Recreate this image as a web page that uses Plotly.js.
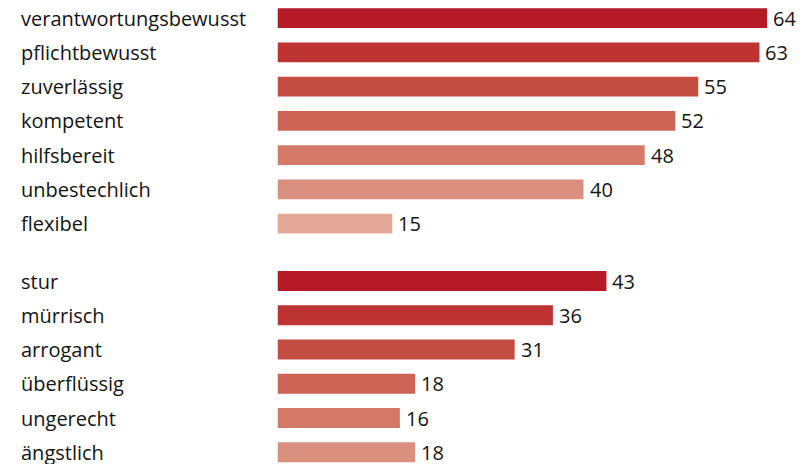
<!DOCTYPE html>
<html>
<head>
<meta charset="utf-8">
<script src="https://cdn.plot.ly/plotly-3.0.1.min.js"></script>
<style>html,body{margin:0;padding:0;background:#fff;}#chart{width:808px;height:464px;}</style>
</head>
<body>
<div id="chart"></div>
<script>
// Data
var positiveLabels = ["verantwortungsbewusst", "pflichtbewusst", "zuverlässig", "kompetent", "hilfsbereit", "unbestechlich", "flexibel"];
var positiveValues = [64, 63, 55, 52, 48, 40, 15];
var negativeLabels = ["stur", "mürrisch", "arrogant", "überflüssig", "ungerecht", "ängstlich"];
var negativeValues = [43, 36, 31, 18, 16, 18];
var barColors = ["#b51a26", "#be3433", "#c44d41", "#cc6354", "#d47968", "#db8f7f", "#e3a898"];

var W = 808, H = 464;
var fontFamily = "'Open Sans', 'Noto Sans', sans-serif";
var textColor = "#141414";
var fontSize = 20;

var traces = [
  {
    type: "bar", orientation: "h",
    x: positiveValues, y: positiveLabels,
    xaxis: "x", yaxis: "y",
    marker: {color: barColors.slice(0, positiveValues.length)},
    width: 0.58, hoverinfo: "none"
  },
  {
    type: "bar", orientation: "h",
    x: negativeValues, y: negativeLabels,
    xaxis: "x2", yaxis: "y2",
    marker: {color: barColors.slice(0, negativeValues.length)},
    width: 0.58, hoverinfo: "none"
  }
];

var annotations = [];
function addLabels(labels, values, xr, yr) {
  labels.forEach(function(lab, i) {
    annotations.push({
      xref: "paper", yref: yr, x: 19 / W, y: lab,
      text: lab, showarrow: false, xanchor: "left", yanchor: "middle",
      font: {family: fontFamily, size: fontSize, color: textColor}
    });
    annotations.push({
      xref: xr, yref: yr, x: values[i], y: lab,
      text: String(values[i]), showarrow: false, xanchor: "left", yanchor: "middle",
      xshift: 4,
      font: {family: fontFamily, size: fontSize, color: textColor}
    });
  });
}
addLabels(positiveLabels, positiveValues, "x", "y");
addLabels(negativeLabels, negativeValues, "x2", "y2");

var xStart = 277.5 / W;
var xMax = (W - 277.5) / 7.65;
var axisX = {domain: [xStart, 1], range: [0, xMax], visible: false, fixedrange: true};
var axisXb = Object.assign({}, axisX, {anchor: "y2"});

var layout = {
  width: W, height: H,
  margin: {l: 0, r: 0, t: 0, b: 0, pad: 0},
  paper_bgcolor: "#ffffff", plot_bgcolor: "#ffffff",
  showlegend: false,
  xaxis: Object.assign({}, axisX, {anchor: "y"}),
  xaxis2: axisXb,
  yaxis: {domain: [1 - 240.7 / H, 1], type: "category", range: [6.5, -0.528], showticklabels: false, showgrid: false, zeroline: false, showline: false, ticks: "", anchor: "x"},
  yaxis2: {domain: [0, (H - 263.9) / H], type: "category", range: [5.343, -0.5], showticklabels: false, showgrid: false, zeroline: false, showline: false, ticks: "", anchor: "x2"},
  annotations: annotations
};

Plotly.newPlot("chart", traces, layout, {displayModeBar: false, staticPlot: true});
</script>
</body>
</html>
